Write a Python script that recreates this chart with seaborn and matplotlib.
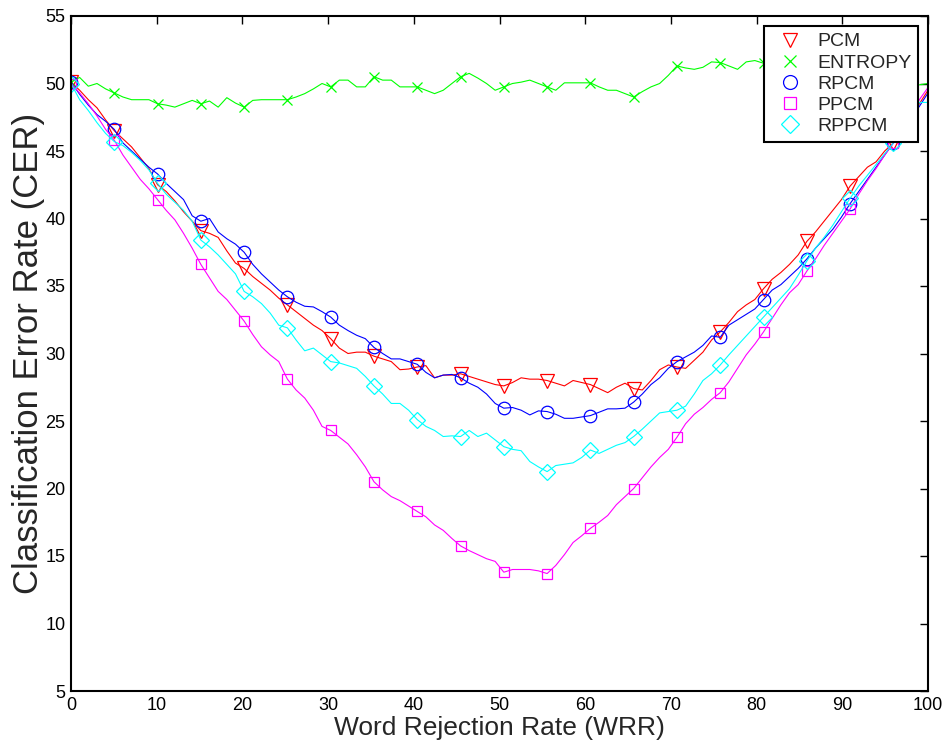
import numpy as np
import pandas as pd
import matplotlib
matplotlib.use("Agg")
import matplotlib.pyplot as plt
from matplotlib.lines import Line2D
import seaborn as sns

# ---------------- data ----------------
WRR = np.linspace(0, 100, 100)  # word rejection rate grid (100 operating points)

PCM = [50.1, 49.5, 48.8, 48.2, 47.3, 46.5, 45.9, 45.3, 44.5, 43.7,
       42.5, 42.0, 41.3, 40.5, 39.8, 39.1, 38.9, 38.6, 37.6, 36.7,
       36.3, 35.7, 35.2, 34.7, 34.1, 33.6, 33.1, 32.6, 32.1, 31.7,
       31.1, 30.4, 30.0, 30.1, 30.1, 29.8, 29.6, 29.4, 28.8, 28.85,
       29.0, 29.1, 28.2, 28.4, 28.4, 28.5, 28.3, 28.1, 27.9, 27.7,
       27.6, 27.85, 28.2, 28.1, 28.1, 28.0, 27.8, 27.6, 28.0, 27.85,
       27.7, 27.4, 27.1, 27.5, 27.8, 27.4, 27.3, 28.0, 28.8, 29.15,
       29.0, 28.9, 29.5, 30.1, 31.0, 31.6, 32.3, 33.1, 33.6, 34.0,
       34.8, 35.5, 36.0, 36.6, 37.3, 38.3, 39.0, 39.8, 40.6, 41.4,
       42.4, 43.1, 43.8, 44.2, 45.0, 45.6, 46.5, 47.4, 48.5, 49.5]

ENTROPY = [50.1, 50.45, 49.8, 50.0, 49.6, 49.3, 49.0, 48.8, 48.8, 48.8,
           48.5, 48.4, 48.25, 48.5, 48.75, 48.5, 48.7, 48.25, 48.95, 48.55,
           48.25, 48.75, 48.8, 48.8, 48.8, 48.8, 49.0, 49.25, 49.6, 50.0,
           49.75, 50.25, 50.25, 49.75, 49.75, 50.5, 50.25, 50.25, 49.75, 49.75,
           49.75, 49.5, 49.25, 49.5, 50.0, 50.5, 50.75, 50.4, 50.0, 49.5,
           49.75, 50.0, 50.1, 50.25, 50.0, 49.75, 49.5, 50.05, 50.05, 50.05,
           50.05, 49.75, 49.5, 49.5, 49.25, 49.0, 49.4, 49.75, 50.0, 50.6,
           51.3, 51.15, 51.05, 51.2, 51.6, 51.55, 51.3, 51.05, 51.6, 51.7,
           51.5, 51.3, 51.0, 50.8, 51.0, 50.7, 50.5, 50.6, 50.3, 50.4,
           50.2, 50.0, 50.1, 49.9, 50.0, 49.8, 49.7, 49.8, 49.9, 50.0]

RPCM = [50.1, 49.2, 48.4, 47.7, 47.2, 46.6, 45.6, 45.0, 44.4, 43.8,
        43.3, 42.6, 42.0, 41.4, 40.2, 39.8, 40.0, 39.0, 38.5, 38.1,
        37.5, 36.6, 35.9, 35.3, 34.7, 34.2, 33.8, 33.5, 33.45, 33.1,
        32.7, 32.1, 31.7, 31.35, 31.1, 30.45, 30.0, 29.6, 29.6, 29.4,
        29.2, 28.6, 28.2, 28.4, 28.45, 28.2, 27.8, 27.5, 27.0, 26.3,
        25.95, 26.0, 25.8, 25.45, 25.75, 25.7, 25.5, 25.2, 25.2, 25.3,
        25.4, 25.65, 25.9, 25.9, 25.95, 26.4, 27.0, 27.7, 28.2, 28.9,
        29.4, 29.75, 30.1, 30.6, 31.3, 31.2, 32.1, 32.5, 32.9, 33.3,
        34.0, 34.7, 35.1, 35.7, 36.3, 37.0, 37.8, 38.5, 39.2, 40.1,
        41.1, 42.0, 42.9, 43.8, 44.7, 45.6, 46.5, 47.4, 48.3, 49.3]

PPCM = [50.0, 49.3, 48.5, 47.6, 46.6, 45.8, 44.7, 43.8, 42.9, 42.2,
        41.4, 40.6, 39.9, 38.9, 37.8, 36.6, 35.6, 34.6, 34.0, 33.2,
        32.4, 31.4, 30.5, 29.9, 29.4, 28.1, 27.3, 26.7, 25.8, 24.6,
        24.3, 23.8, 23.3, 22.5, 21.6, 20.5, 19.9, 19.4, 19.1, 18.7,
        18.3, 17.9, 17.3, 16.9, 16.3, 15.75, 15.4, 15.1, 14.8, 14.6,
        13.8, 14.0, 14.0, 14.0, 13.9, 13.7, 14.3, 15.1, 16.0, 16.5,
        17.05, 17.5, 18.0, 18.8, 19.4, 20.0, 20.8, 21.6, 22.3, 22.9,
        23.8, 24.8, 25.5, 26.0, 26.6, 27.1, 27.9, 28.9, 29.9, 30.7,
        31.6, 32.6, 33.6, 34.5, 35.1, 36.1, 37.0, 38.0, 38.9, 39.8,
        40.7, 41.8, 42.8, 43.7, 44.7, 45.6, 46.5, 47.4, 48.8, 49.7]

RPPCM = [50.0, 48.8, 48.0, 47.1, 46.3, 45.7, 45.4, 44.9, 44.3, 43.6,
         42.6, 41.8, 41.2, 40.6, 39.8, 38.4, 37.9, 37.3, 36.6, 35.9,
         34.6, 34.2, 33.7, 33.0, 32.1, 31.9, 31.0, 30.2, 30.4, 29.9,
         29.4, 29.3, 29.1, 28.9, 28.3, 27.6, 27.0, 26.3, 26.3, 25.8,
         25.1, 24.6, 24.3, 23.85, 23.9, 23.85, 24.3, 23.85, 24.1, 23.6,
         23.1, 22.9, 22.8, 22.0, 21.6, 21.25, 21.7, 21.8, 21.9, 22.3,
         22.85, 22.6, 22.9, 23.2, 23.4, 23.85, 24.4, 25.0, 25.6, 25.7,
         25.8, 26.1, 27.0, 28.0, 28.5, 29.15, 29.9, 30.6, 31.3, 32.0,
         32.7, 33.4, 34.1, 34.8, 35.8, 36.85, 37.8, 38.6, 39.5, 40.5,
         41.5, 42.4, 43.2, 44.0, 44.8, 45.6, 46.4, 47.2, 48.6, 48.6]

SERIES = ["PCM", "ENTROPY", "RPCM", "PPCM", "RPPCM"]
VALUES = [PCM, ENTROPY, RPCM, PPCM, RPPCM]
COLORS = ["#ff0000", "#00ff00", "#0000ff", "#ff00ff", "#00ffff"]
MARKERS = ["v", "x", "o", "s", "D"]
MSIZES = [9.5, 7, 9, 7.5, 8.5]

X_TICKS = list(range(0, 101, 10))
Y_TICKS = list(range(5, 56, 5))

# ---------------- plot ----------------
sns.set_theme(style="white")
plt.rcParams["font.family"] = ["Liberation Sans", "DejaVu Sans"]

fig = plt.figure(figsize=(9.46, 7.53), dpi=100)
ax = fig.add_axes([71 / 946, 1 - 691 / 753, (928 - 71) / 946, (691 - 16) / 753])

df = pd.DataFrame({"WRR": np.tile(WRR, len(SERIES)),
                   "CER": np.concatenate(VALUES),
                   "method": np.repeat(SERIES, len(WRR))})

mark_idx = list(range(0, 96, 5))
handles = []
for name, col, mk, ms in zip(SERIES, COLORS, MARKERS, MSIZES):
    sub = df[df["method"] == name]
    sns.lineplot(data=sub, x="WRR", y="CER", ax=ax, color=col, lw=0.8,
                 marker=mk, markevery=mark_idx, markersize=ms,
                 markerfacecolor="none", markeredgecolor=col,
                 markeredgewidth=0.9, estimator=None, sort=False, legend=False)
    handles.append(Line2D([], [], linestyle="none", marker=mk, markersize=ms + 1,
                          markerfacecolor="none", markeredgecolor=col,
                          markeredgewidth=0.9, label=name))

ax.set_xlim(0, 100)
ax.set_ylim(5, 55)
ax.set_xticks(X_TICKS)
ax.set_yticks(Y_TICKS)
ax.tick_params(axis="both", which="both", direction="in", length=6, width=1,
               top=True, right=True, labelsize=13, colors="black", pad=4)
for s in ax.spines.values():
    s.set_color("black")
    s.set_linewidth(1.5)
ax.set_xlabel("Word Rejection Rate (WRR)", fontsize=19, labelpad=2)
ax.set_ylabel("Classification Error Rate (CER)", fontsize=25, labelpad=0)

leg = ax.legend(handles=handles, loc="upper right", bbox_to_anchor=(0.9883, 0.9852),
                fontsize=14, frameon=True, fancybox=False, framealpha=1,
                edgecolor="black", borderpad=0.35, labelspacing=0.185,
                handlelength=1.98, handletextpad=0.4, borderaxespad=0)
leg.get_frame().set_linewidth(1.5)

fig.savefig("out.png", dpi=100, facecolor="white")
